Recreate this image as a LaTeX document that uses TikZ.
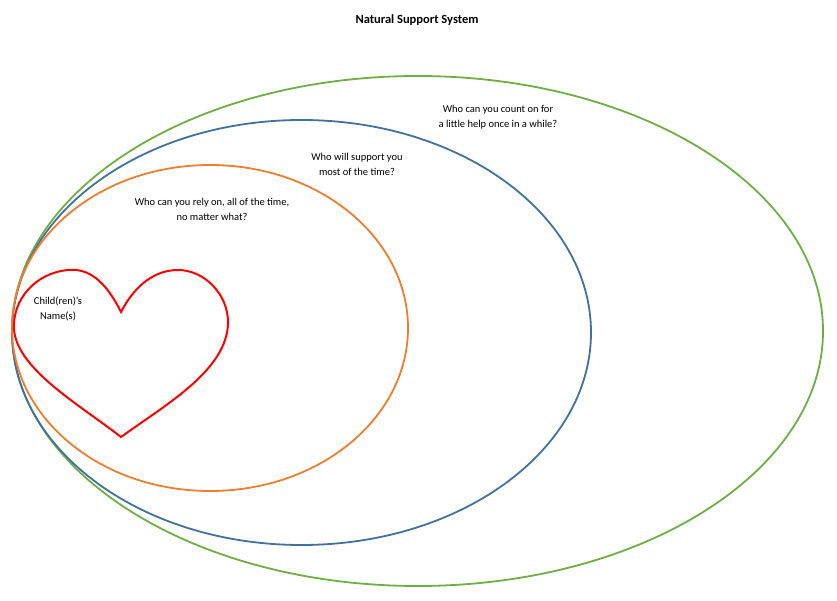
\documentclass[tikz,border=0pt]{standalone}
\usepackage{fontspec}
\setmainfont{Carlito}
\begin{document}
\begin{tikzpicture}[x=1pt,y=-1pt,line width=1.8pt,
  lab/.style={align=center,font=\fontsize{10.5}{15}\selectfont}]
\useasboundingbox (0,0) rectangle (837,601);
\node[font=\bfseries\fontsize{12.5}{15}\selectfont] (title) at (417,20) {Natural Support System};
\draw[draw={rgb,255:red,112;green,173;blue,71}] (417.5,331) ellipse [x radius=405.5, y radius=255];
\draw[draw={rgb,255:red,65;green,113;blue,156}] (301.5,332.5) ellipse [x radius=289.5, y radius=212.5];
\draw[draw={rgb,255:red,237;green,125;blue,49}] (210,328) ellipse [x radius=198, y radius=163];
\draw[red,line width=2pt] (121,312) .. controls (105,280) and (88,268) .. (68,270)
  .. controls (35,273) and (12,300) .. (14,330)
  .. controls (18,370) and (80,405) .. (121,437)
  .. controls (165,405) and (228,370) .. (228,322)
  .. controls (228,295) and (205,270) .. (178,270)
  .. controls (155,270) and (135,285) .. (121,312) -- cycle;
\node[lab] (child) at (58,309) {Child(ren)'s\\Name(s)};
\node[lab] (q1) at (212,209) {Who can you rely on, all of the time,\\no matter what?};
\node[lab] (q2) at (357,164) {Who will support you\\most of the time?};
\node[lab] (q3) at (498,117) {Who can you count on for\\a little help once in a while?};
\end{tikzpicture}
\end{document}
